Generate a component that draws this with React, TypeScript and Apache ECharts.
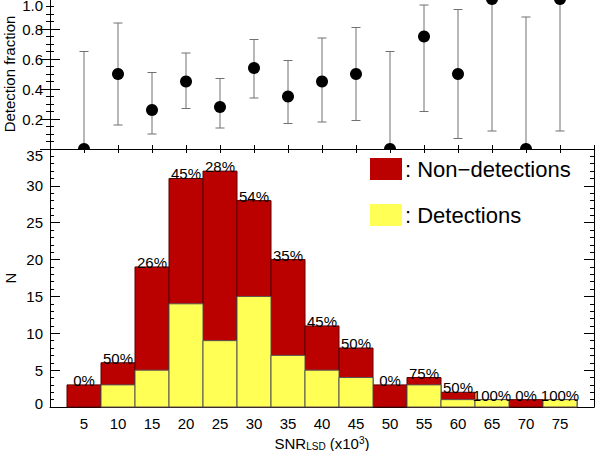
import React, { useEffect, useRef } from "react";
import * as echarts from "echarts";

const bins = [5, 10, 15, 20, 25, 30, 35, 40, 45, 50, 55, 60, 65, 70, 75];
const totals = [3, 6, 19, 31, 32, 28, 20, 11, 8, 3, 4, 2, 1, 1, 1];
const detections = [0, 3, 5, 14, 9, 15, 7, 5, 4, 0, 3, 1, 1, 0, 1];
const fraction = [0, 0.5, 0.26, 0.45, 0.28, 0.54, 0.35, 0.45, 0.5, 0, 0.75, 0.5, 1, 0, 1];
const errLow = [0, 0.16, 0.1, 0.27, 0.14, 0.34, 0.17, 0.18, 0.19, 0, 0.25, 0.07, 0.12, 0, 0.12];
const errHigh = [0.65, 0.84, 0.51, 0.64, 0.47, 0.73, 0.59, 0.74, 0.81, 0.65, 0.96, 0.93, 1, 0.88, 1];

const RED = "#bb0000";
const YELLOW = "#ffff55";
const FONT = "Liberation Sans";

export default function App() {
  const ref = useRef<HTMLDivElement>(null);
  useEffect(() => {
    document.body.style.margin = "0";
    document.body.style.overflow = "hidden";
    const chart = echarts.init(ref.current!, null, { renderer: "svg" });
    const binW = 5;
    const histData = bins.map((b, i) => [b, totals[i], detections[i]]);
    const fracData = bins.map((b, i) => [b, fraction[i], errLow[i], errHigh[i]]);

    const xCommon = {
      type: "value",
      min: 0,
      max: 80,
      interval: 5,
      splitLine: { show: false },
      axisLine: { lineStyle: { color: "#000" } },
      axisTick: { inside: true, length: 4, lineStyle: { color: "#000" } },
    };
    const yTick = (len: number) => ({ inside: true, length: len, lineStyle: { color: "#000" } });
    const lab = { fontSize: 15, color: "#000", fontFamily: FONT };

    chart.setOption({
      animation: false,
      textStyle: { fontFamily: FONT },
      grid: [
        { left: 50, width: 544, top: -1, height: 150, outerBoundsMode: "none", containLabel: false },
        { left: 50, width: 544, top: 149, height: 258, outerBoundsMode: "none", containLabel: false },
      ],
      legend: {
        orient: "vertical",
        left: 370,
        top: 158,
        padding: 0,
        itemWidth: 32,
        itemHeight: 22,
        itemGap: 24,
        icon: "rect",
        data: ["Non−detections", "Detections"],
        formatter: ": {name}",
        textStyle: { fontSize: 22, color: "#000", fontFamily: FONT, padding: [0, 0, 0, -2] },
        selectedMode: false,
      },
      xAxis: [
        { ...xCommon, gridIndex: 0, position: "bottom", axisLabel: { show: false } },
        { ...xCommon, gridIndex: 0, position: "top", axisLabel: { show: false } },
        {
          ...xCommon,
          gridIndex: 1,
          position: "bottom",
          axisLabel: {
            fontSize: 15,
            color: "#000",
            margin: 9,
            formatter: (v: number) => (v === 0 || v === 80 ? "" : String(v)),
          },
          name: "{a|SNR}{s|LSD}{a| (x10}{p|3}{a|)}",
          nameLocation: "middle",
          nameGap: 26,
          nameTextStyle: {
            rich: {
              a: { fontSize: 15, color: "#000", fontFamily: FONT },
              s: { fontSize: 10, color: "#000", fontFamily: FONT, verticalAlign: "bottom", padding: [6, 0, 0, 0] },
              p: { fontSize: 10, color: "#000", fontFamily: FONT, verticalAlign: "top", padding: [0, 0, 6, 0] },
            },
          },
        },
      ],
      yAxis: [
        {
          type: "value",
          gridIndex: 0,
          min: 0,
          max: 1,
          interval: 0.2,
          splitLine: { show: false },
          axisLine: { show: true, lineStyle: { color: "#000" } },
          axisTick: yTick(10),
          minorTick: { show: true, splitNumber: 4, length: 4, lineStyle: { color: "#000" } },
          axisLabel: {
            ...lab,
            margin: 7,
            formatter: (v: number) => (v === 0 ? "" : v === 1 ? "{t|1.0}" : v.toFixed(1)),
            rich: { t: { ...lab, padding: [13, 0, 0, 0] } },
          },
          name: "Detection fraction",
          nameLocation: "middle",
          nameMoveOverlap: false,
          nameGap: 33,
          nameTextStyle: { fontSize: 15, color: "#000" },
        },
        {
          type: "value",
          gridIndex: 0,
          position: "right",
          min: 0,
          max: 1,
          interval: 0.2,
          splitLine: { show: false },
          axisLine: { show: true, lineStyle: { color: "#000" } },
          axisTick: yTick(10),
          minorTick: { show: true, splitNumber: 4, length: 4, lineStyle: { color: "#000" } },
          axisLabel: { show: false },
        },
        {
          type: "value",
          gridIndex: 1,
          min: 0,
          max: 35,
          interval: 5,
          splitLine: { show: false },
          axisLine: { show: true, lineStyle: { color: "#000" } },
          axisTick: yTick(10),
          minorTick: { show: true, splitNumber: 5, length: 4, lineStyle: { color: "#000" } },
          axisLabel: {
            ...lab,
            margin: 7,
            formatter: (v: number) => (v === 35 ? "{t|35}" : v === 0 ? "{b|0}" : String(v)),
            rich: {
              t: { ...lab, padding: [12, 0, 0, 0] },
              b: { ...lab, padding: [0, 0, 8, 0] },
            },
          },
          name: "N",
          nameLocation: "middle",
          nameMoveOverlap: false,
          nameGap: 32,
          nameTextStyle: { fontSize: 15, color: "#000" },
        },
        {
          type: "value",
          gridIndex: 1,
          position: "right",
          min: 0,
          max: 35,
          interval: 5,
          splitLine: { show: false },
          axisLine: { show: true, lineStyle: { color: "#000" } },
          axisTick: yTick(10),
          minorTick: { show: true, splitNumber: 5, length: 4, lineStyle: { color: "#000" } },
          axisLabel: { show: false },
        },
      ],
      series: [
        {
          name: "Non−detections",
          type: "custom",
          xAxisIndex: 2,
          yAxisIndex: 2,
          itemStyle: { color: RED },
          data: histData,
          renderItem: (params: any, api: any) => {
            const x = api.value(0);
            const tot = api.value(1);
            const p0 = api.coord([x - binW / 2, tot]);
            const p1 = api.coord([x + binW / 2, 0]);
            return {
              type: "rect",
              shape: { x: p0[0], y: p0[1], width: p1[0] - p0[0], height: p1[1] - p0[1] },
              style: { fill: RED, stroke: "#5a0000", lineWidth: 1 },
            };
          },
        },
        {
          name: "Detections",
          type: "custom",
          xAxisIndex: 2,
          yAxisIndex: 2,
          itemStyle: { color: YELLOW },
          data: histData,
          renderItem: (params: any, api: any) => {
            const x = api.value(0);
            const tot = api.value(1);
            const det = api.value(2);
            const p0 = api.coord([x - binW / 2, det]);
            const p1 = api.coord([x + binW / 2, 0]);
            const pt = api.coord([x, tot]);
            const children: any[] = [];
            if (det > 0) {
              children.push({
                type: "rect",
                shape: { x: p0[0], y: p0[1], width: p1[0] - p0[0], height: p1[1] - p0[1] },
                style: { fill: YELLOW, stroke: "#555", lineWidth: 1 },
              });
            }
            children.push({
              type: "text",
              x: pt[0],
              y: pt[1] + 3,
              style: {
                text: Math.round((det / tot) * 100) + "%",
                fontSize: 15,
                fontFamily: FONT,
                fill: "#000",
                align: "center",
                verticalAlign: "bottom",
              },
            });
            return { type: "group", children };
          },
        },
        {
          type: "custom",
          xAxisIndex: 0,
          yAxisIndex: 0,
          clip: true,
          data: fracData,
          renderItem: (params: any, api: any) => {
            const x = api.value(0);
            const f = api.value(1);
            const lo = api.coord([x, api.value(2)]);
            const hi = api.coord([x, api.value(3)]);
            const c = api.coord([x, f]);
            const cap = 4.5;
            const st = { stroke: "#707070", lineWidth: 1 };
            return {
              type: "group",
              children: [
                { type: "line", shape: { x1: lo[0], y1: lo[1], x2: hi[0], y2: hi[1] }, style: st },
                { type: "line", shape: { x1: lo[0] - cap, y1: lo[1], x2: lo[0] + cap, y2: lo[1] }, style: st },
                { type: "line", shape: { x1: hi[0] - cap, y1: hi[1], x2: hi[0] + cap, y2: hi[1] }, style: st },
                { type: "circle", shape: { cx: c[0], cy: c[1], r: 6 }, style: { fill: "#000" } },
              ],
            };
          },
        },
      ],
    });
    return () => chart.dispose();
  }, []);
  return <div ref={ref} style={{ width: 598, height: 451 }} />;
}
